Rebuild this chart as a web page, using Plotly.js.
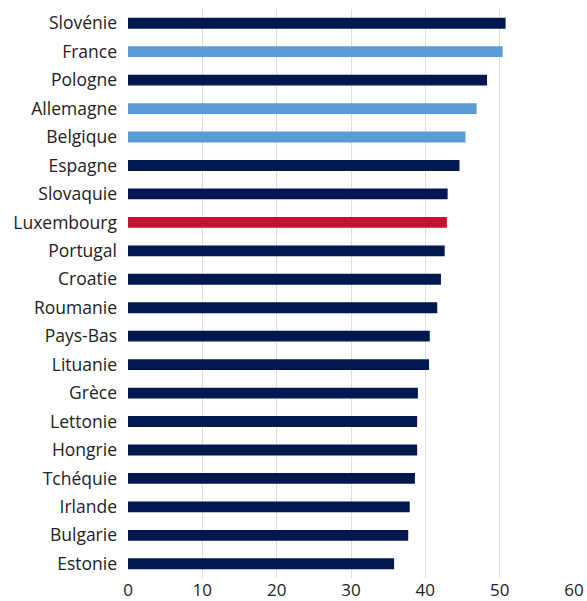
<!DOCTYPE html>
<html>
<head>
<meta charset="utf-8">
<script src="https://cdn.plot.ly/plotly-3.0.1.min.js"></script>
<style>html,body{margin:0;padding:0;background:#fff;}#chart{width:587px;height:601px;}</style>
</head>
<body>
<div id="chart"></div>
<script>
const countries = ["Slovénie","France","Pologne","Allemagne","Belgique","Espagne","Slovaquie","Luxembourg","Portugal","Croatie","Roumanie","Pays-Bas","Lituanie","Grèce","Lettonie","Hongrie","Tchéquie","Irlande","Bulgarie","Estonie"];
const values = [50.8,50.4,48.3,46.9,45.4,44.6,43.0,42.9,42.6,42.1,41.6,40.6,40.5,39.0,38.9,38.9,38.6,37.9,37.7,35.8];
const groups = ["other","highlight","other","highlight","highlight","other","other","lux","other","other","other","other","other","other","other","other","other","other","other","other"];
const groupColors = {other:"#00174F", highlight:"#5B9BD5", lux:"#C41230"};
const xTicks = [0,10,20,30,40,50,60];

const trace = {
  type: "bar",
  orientation: "h",
  y: countries,
  x: values,
  marker: {color: groups.map(g => groupColors[g])},
  hoverinfo: "x+y"
};
const layout = {
  width: 587, height: 601,
  margin: {l: 128, r: 13, t: 9, b: 23},
  paper_bgcolor: "#fff", plot_bgcolor: "#fff",
  bargap: 0.62,
  showlegend: false,
  font: {family: "Open Sans, sans-serif", size: 17.5, color: "#222"},
  xaxis: {
    range: [0, 60], tickvals: xTicks, ticktext: xTicks.map(String),
    showgrid: true, gridcolor: "#DDDDDD", gridwidth: 1,
    zeroline: false, showline: false, ticks: "", fixedrange: true,
    tickfont: {size: 17, color: "#222"}
  },
  yaxis: {
    autorange: "reversed", type: "category",
    showgrid: false, zeroline: false, showline: false, ticks: "",
    ticklabelstandoff: 10,
    tickfont: {size: 17.5, color: "#222"}
  }
};
Plotly.newPlot("chart", [trace], layout, {displayModeBar: false, staticPlot: true});
</script>
</body>
</html>
